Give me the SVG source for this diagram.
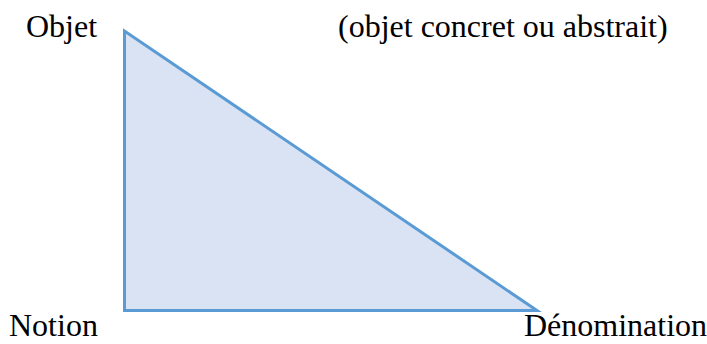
<svg xmlns="http://www.w3.org/2000/svg" width="707" height="344" viewBox="0 0 707 344">
<style>
text{font-family:'Liberation Serif','Times New Roman',Times,serif;font-size:32px;fill:#000}
.tri{fill:#dae3f3;stroke:#5b9bd5;stroke-width:3;stroke-linejoin:miter}
</style>
<rect width="707" height="344" fill="#fff"/>
<g id="triangle">
<polygon class="tri" points="124.5,31 124.5,310.5 537,310.5"/>
</g>
<g id="connectors"></g>
<g id="objet"><text x="26" y="37">Objet</text></g>
<g id="note"><text x="338" y="37">(objet concret ou abstrait)</text></g>
<g id="notion"><text x="9" y="336">Notion</text></g>
<g id="denomination"><text x="524" y="336">Dénomination</text></g>
</svg>
